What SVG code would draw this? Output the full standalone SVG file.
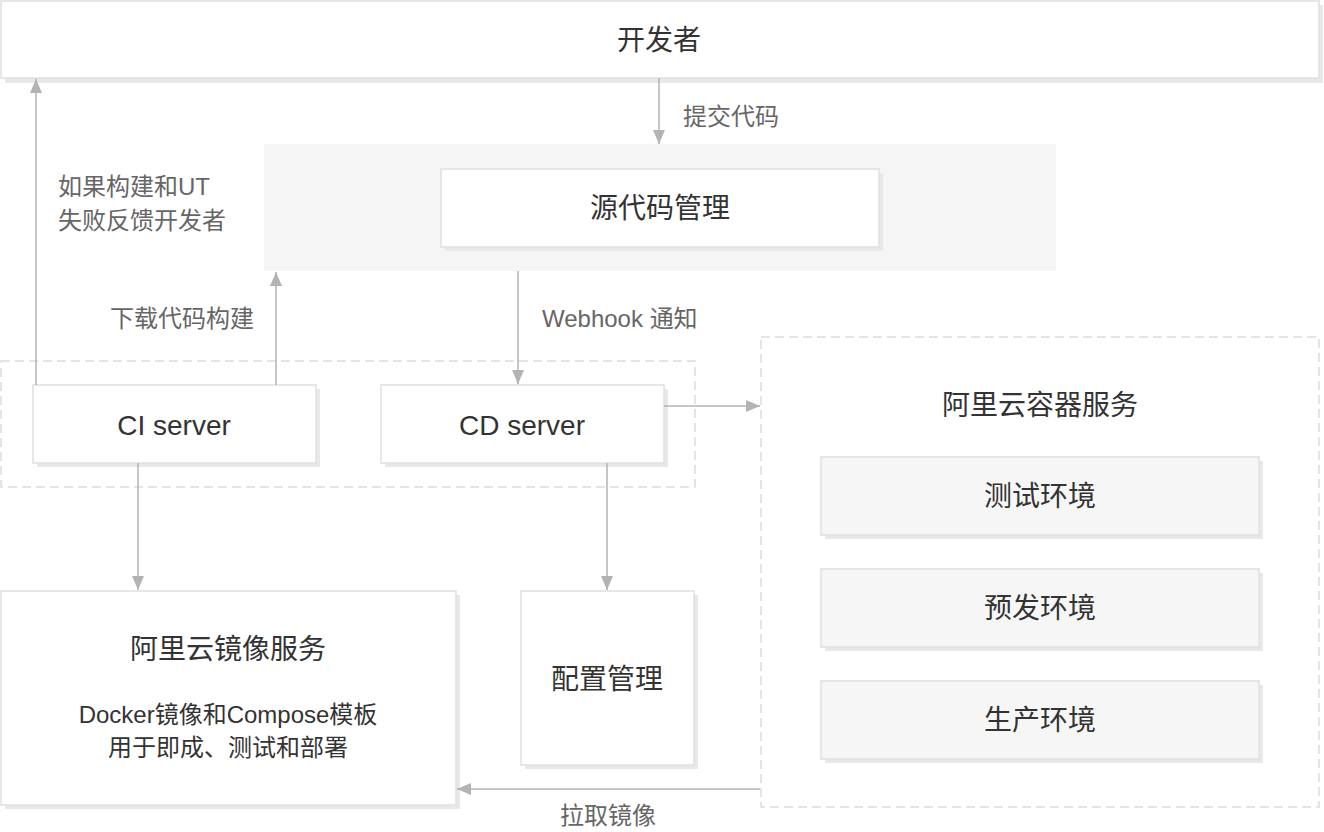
<svg xmlns="http://www.w3.org/2000/svg" width="1324" height="832" viewBox="0 0 1324 832">
<defs>
<marker id="arr" markerUnits="userSpaceOnUse" markerWidth="14" markerHeight="12" refX="14" refY="6" orient="auto">
<path d="M0,0 L14,6 L0,12 z" fill="#b3b3b3"/>
</marker>
<style>
.box{fill:#fff;stroke:#e0e0e0;stroke-width:1.5}
.gbox{fill:#f6f6f6;stroke:#e0e0e0;stroke-width:1.5}
.sh{fill:#e8e8e8}
.dash{fill:none;stroke:#dcdcdc;stroke-width:1.5;stroke-dasharray:9 5}
.t{font-family:"Liberation Sans","Noto Sans CJK SC",sans-serif;font-size:28px;fill:#333;text-anchor:middle;dominant-baseline:central}
.l{font-family:"Liberation Sans","Noto Sans CJK SC",sans-serif;font-size:24px;fill:#666;dominant-baseline:central}
.s{font-family:"Liberation Sans","Noto Sans CJK SC",sans-serif;font-size:24px;fill:#333;text-anchor:middle;dominant-baseline:central}
.c{fill:none;stroke:#b3b3b3;stroke-width:1.5;marker-end:url(#arr)}
</style>
</defs>
<rect width="1324" height="832" fill="#fff"/>

<rect x="264" y="144" width="792" height="127" fill="#f5f5f5"/>
<rect class="dash" x="1" y="361" width="694" height="126"/>
<rect class="dash" x="761" y="337" width="558" height="470"/>

<g id="developer">
<rect class="sh" x="5" y="5" width="1318" height="78"/>
<rect class="box" x="1" y="1" width="1318" height="77"/>
<text class="t" x="659" y="40">开发者</text>
</g>
<g id="scm">
<rect class="sh" x="445" y="173" width="438" height="78"/>
<rect class="box" x="441" y="169" width="438" height="78"/>
<text class="t" x="660" y="208">源代码管理</text>
</g>
<g id="ci">
<rect class="sh" x="37" y="389" width="283" height="78"/>
<rect class="box" x="33" y="385" width="283" height="78"/>
<text class="t" x="174" y="425">CI server</text>
</g>
<g id="cd">
<rect class="sh" x="385" y="389" width="283" height="78"/>
<rect class="box" x="381" y="385" width="283" height="78"/>
<text class="t" x="522" y="425">CD server</text>
</g>
<g id="container">
<text class="t" x="1040" y="405">阿里云容器服务</text>
</g>
<g id="test">
<rect class="sh" x="825" y="461" width="438" height="78"/>
<rect class="gbox" x="821" y="457" width="438" height="78"/>
<text class="t" x="1040" y="496">测试环境</text>
</g>
<g id="staging">
<rect class="sh" x="825" y="573" width="438" height="78"/>
<rect class="gbox" x="821" y="569" width="438" height="78"/>
<text class="t" x="1040" y="608">预发环境</text>
</g>
<g id="prod">
<rect class="sh" x="825" y="685" width="438" height="78"/>
<rect class="gbox" x="821" y="681" width="438" height="78"/>
<text class="t" x="1040" y="720">生产环境</text>
</g>
<g id="registry">
<rect class="sh" x="5" y="595" width="455" height="214"/>
<rect class="box" x="1" y="591" width="455" height="214"/>
<text class="t" x="228" y="649">阿里云镜像服务</text>
<text class="s" x="228" y="714">Docker镜像和Compose模板</text>
<text class="s" x="228" y="747">用于即成、测试和部署</text>
</g>
<g id="config">
<rect class="sh" x="525" y="595" width="173" height="174"/>
<rect class="box" x="521" y="591" width="173" height="174"/>
<text class="t" x="607" y="679">配置管理</text>
</g>

<g id="connectors">
<line class="c" x1="659" y1="78" x2="659" y2="144"/>
<line class="c" x1="36" y1="385" x2="36" y2="79"/>
<line class="c" x1="276" y1="385" x2="276" y2="272"/>
<line class="c" x1="518" y1="271" x2="518" y2="384"/>
<line class="c" x1="664" y1="406" x2="760" y2="406"/>
<line class="c" x1="138" y1="463" x2="138" y2="590"/>
<line class="c" x1="607" y1="463" x2="607" y2="590"/>
<line class="c" x1="760" y1="789" x2="457" y2="789"/>
<text class="l" x="683" y="116">提交代码</text>
<text class="l" x="58" y="186">如果构建和UT</text>
<text class="l" x="58" y="220">失败反馈开发者</text>
<text class="l" x="110" y="318">下载代码构建</text>
<text class="l" x="542" y="318">Webhook 通知</text>
<text class="l" x="608" y="815" text-anchor="middle">拉取镜像</text>
</g>
</svg>
